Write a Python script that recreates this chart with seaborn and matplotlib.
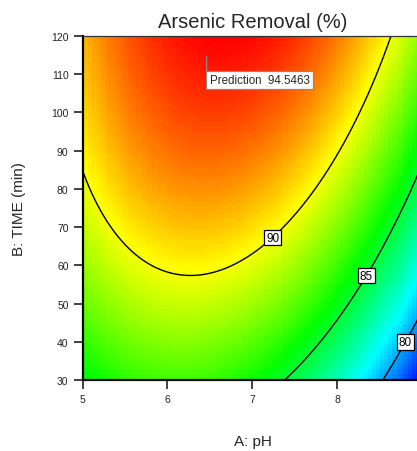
import numpy as np
import matplotlib
matplotlib.use('Agg')
import matplotlib.pyplot as plt
import seaborn as sns

# quadratic model in coded units (A: pH 5..9, B: time 30..120 min -> -1..+1)
# terms: intercept, A, B, AB, A^2, B^2
coef = [91.187, -2.888, 4.209, 1.309, -4.66, -1.016]
ph_range = [5, 9]
time_range = [30, 120]

levels = [80, 85, 90]
label_pos = [(8.755, 40.5), (8.29, 58.0), (7.21, 67.9)]

pred_point = (6.46, 114.7)
pred_text = 'Prediction  94.5463'

x_ticks = [5, 6, 7, 8]
y_ticks = [30, 40, 50, 60, 70, 80, 90, 100, 110, 120]

# %%
A = np.linspace(ph_range[0], ph_range[1], 86)
B = np.linspace(time_range[0], time_range[1], 91)
AA, BB = np.meshgrid(A, B)
x1 = (AA - np.mean(ph_range)) / (np.diff(ph_range)[0] / 2)
x2 = (BB - np.mean(time_range)) / (np.diff(time_range)[0] / 2)
Z = coef[0] + coef[1] * x1 + coef[2] * x2 + coef[3] * x1 * x2 + coef[4] * x1 ** 2 + coef[5] * x2 ** 2

sns.set_style('ticks')
plt.rcParams['font.family'] = ['Liberation Sans', 'DejaVu Sans']
cmap = sns.blend_palette(['#0000ff', '#00ffff', '#00ff00', '#ffff00', '#ff0000'], as_cmap=True)

fig = plt.figure(figsize=(4.17, 4.52), dpi=100)
ax = fig.add_axes([82.5 / 417, 1 - 381 / 452, 340 / 417, 344 / 452])
ax.pcolormesh(AA, BB, Z, cmap=cmap, vmin=Z.min(), vmax=Z.max(), shading='auto')

cs = ax.contour(AA, BB, Z, levels=levels, colors='black', linewidths=1)
labs = ax.clabel(cs, fmt='%d', fontsize=8.5, inline=False, manual=label_pos)
for t in labs:
    t.set_rotation(0)
    t.set_bbox(dict(facecolor='white', edgecolor='black', pad=1.2, linewidth=0.9))

# prediction flag
ax.annotate(pred_text, xy=pred_point, xytext=(3, -24), textcoords='offset pixels',
            fontsize=8.3, ha='left', va='center',
            bbox=dict(facecolor='white', edgecolor='#888888', pad=2.2, linewidth=0.9),
            arrowprops=dict(arrowstyle='-', color='#888888', linewidth=0.9,
                            shrinkA=0, shrinkB=0, relpos=(-0.03, 1)))

ax.set_xlim(ph_range)
ax.set_ylim(time_range)
ax.set_xticks(x_ticks)
ax.set_yticks(y_ticks)
ax.tick_params(direction='out', length=6.5, width=1.3, labelsize=7.5, color='#333333', labelcolor='#222222')
ax.set_title('Arsenic Removal (%)', fontsize=14.5, pad=6.5)
ax.set_xlabel('A: pH', fontsize=11)
ax.xaxis.set_label_coords(0.5, -0.158)
ax.set_ylabel('B: TIME (min)', fontsize=11, labelpad=18)
for s in ['left', 'bottom']:
    ax.spines[s].set_linewidth(1.6)
    ax.spines[s].set_color('black')
ax.spines['top'].set_linewidth(0.9)
ax.spines['top'].set_color('#333333')

fig.savefig('out.png', dpi=100)
